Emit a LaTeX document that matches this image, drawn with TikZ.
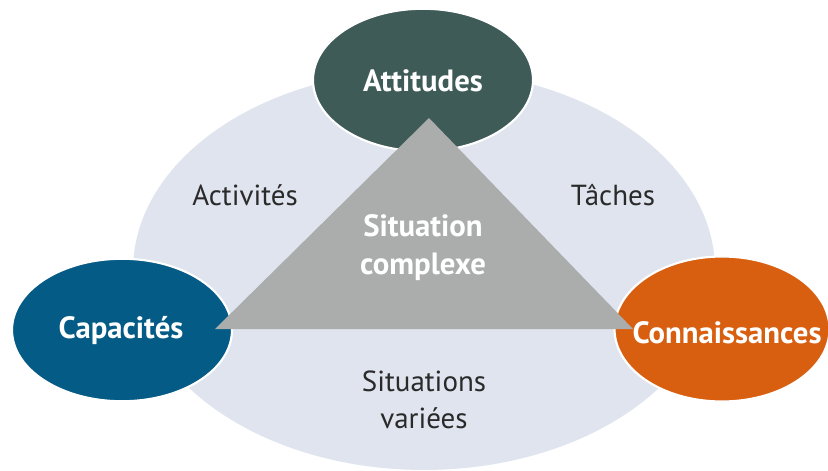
\documentclass[tikz,border=0pt]{standalone}
\usepackage{fontspec}
\setmainfont{PT Sans}
\usetikzlibrary{shapes.geometric}
\definecolor{halo}{HTML}{DFE4EE}
\definecolor{attcol}{HTML}{3E5B58}
\definecolor{capcol}{HTML}{045B86}
\definecolor{concol}{HTML}{D95F10}
\definecolor{tricol}{HTML}{ABACAC}
\definecolor{txtcol}{HTML}{2A2A2A}

\begin{document}
\begin{tikzpicture}[x=0.02cm,y=-0.02cm,
		pole/.style={ellipse, draw=white, line width=1.2pt, minimum width=4.4cm, minimum height=2.85cm, inner sep=0pt},
		poletext/.style={text=white, font=\fontsize{17.5}{20}\selectfont\bfseries, inner sep=0pt},
		side/.style={text=txtcol, font=\fontsize{16.5}{20}\selectfont, align=center}]
	\useasboundingbox (0,0) rectangle (828,470);
	\clip (0,0) rectangle (828,470);
	% big background ellipse
	\node[ellipse, fill=halo, minimum width=11.64cm, minimum height=8cm] (fond) at (424,270) {};
	% the three poles
	\node[pole, fill=attcol] (att) at (423,80) {};
	\node[pole, fill=capcol] (cap) at (122,330) {};
	\node[pole, fill=concol, minimum width=4.3cm, minimum height=2.9cm] (con) at (722,329) {};
	% triangle
	\coordinate (haut) at (429,118);
	\coordinate (gauche) at (215,329);
	\coordinate (droite) at (633,329);
	\fill[tricol] (haut) -- (gauche) -- (droite) -- cycle;
	% texts
	\node[poletext] (atttxt) at (423,81) {Attitudes};
	\node[poletext] (captxt) at (121,331) {Capacités};
	\node[poletext] (contxt) at (727,333) {Connaissances};
	\node[poletext, align=center] (sit) at (423,248) {Situation\\[1.6pt]complexe};
	\node[side] (act) at (245,195) {Activités};
	\node[side] (tac) at (613,195) {Tâches};
	\node[side] (var) at (424,400) {Situations\\[1pt]variées};
\end{tikzpicture}
\end{document}
